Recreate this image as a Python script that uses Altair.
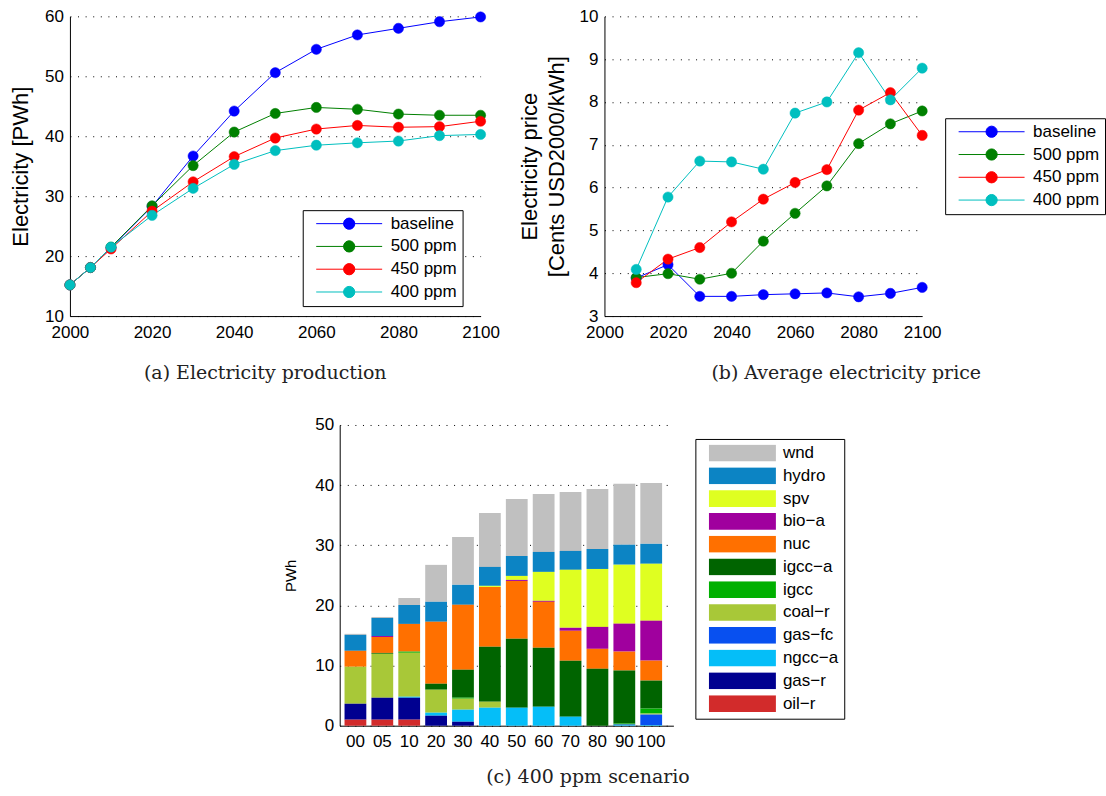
import altair as alt
import pandas as pd

# ---------------- data ----------------
scenarios = ["baseline", "500 ppm", "450 ppm", "400 ppm"]
line_colors = ["#0000ff", "#008000", "#ff0000", "#00bfbf"]

years_prod = [2000, 2005, 2010, 2020, 2030, 2040, 2050, 2060, 2070, 2080, 2090, 2100]
prod_baseline = [15.2, 18.1, 21.4, 28.3, 36.7, 44.2, 50.6, 54.5, 56.9, 58.0, 59.1, 59.9]
prod_500 = [15.2, 18.1, 21.5, 28.4, 35.1, 40.7, 43.8, 44.8, 44.5, 43.7, 43.5, 43.5]
prod_450 = [15.2, 18.1, 21.2, 27.5, 32.4, 36.6, 39.7, 41.2, 41.8, 41.5, 41.6, 42.5]
prod_400 = [15.2, 18.1, 21.5, 26.8, 31.3, 35.3, 37.6, 38.5, 38.9, 39.2, 40.1, 40.3]

years_price = [2010, 2020, 2030, 2040, 2050, 2060, 2070, 2080, 2090, 2100]
price_baseline = [3.89, 4.20, 3.46, 3.46, 3.50, 3.52, 3.54, 3.45, 3.53, 3.67]
price_500 = [3.90, 3.99, 3.86, 4.00, 4.75, 5.40, 6.04, 7.03, 7.49, 7.79]
price_450 = [3.78, 4.33, 4.60, 5.20, 5.73, 6.12, 6.42, 7.81, 8.22, 7.22]
price_400 = [4.09, 5.78, 6.62, 6.60, 6.43, 7.74, 8.00, 9.15, 8.05, 8.79]

bar_years = ["00", "05", "10", "20", "30", "40", "50", "60", "70", "80", "90", "100"]
# legend order (top to bottom); stack order is the reverse (oil−r at the bottom)
techs = ["wnd", "hydro", "spv", "bio\u2212a", "nuc", "igcc\u2212a", "igcc", "coal\u2212r",
         "gas\u2212fc", "ngcc\u2212a", "gas\u2212r", "oil\u2212r"]
tech_colors = ["#c0c0c0", "#0c84c4", "#dfff21", "#a0009e", "#ff7000", "#006400",
               "#00b000", "#a8c838", "#0850f0", "#05bef8", "#000090", "#d22b2b"]
wnd = [0.17, 0.17, 1.16, 6.14, 7.97, 8.96, 9.46, 9.63, 9.80, 9.96, 10.13, 10.13]
hydro = [2.65, 3.00, 3.15, 3.32, 3.32, 3.15, 3.32, 3.32, 3.15, 3.32, 3.32, 3.32]
spv = [0, 0, 0, 0, 0, 0.17, 0.66, 4.81, 9.63, 9.63, 9.80, 9.46]
bio_a = [0, 0.16, 0, 0, 0, 0, 0.17, 0.17, 0.50, 3.65, 4.65, 6.64]
nuc = [2.65, 2.65, 4.60, 10.30, 10.79, 9.96, 9.63, 7.64, 4.98, 3.32, 3.15, 3.32]
igcc_a = [0, 0.15, 0, 1.00, 4.65, 9.13, 11.45, 9.80, 9.30, 9.46, 8.80, 4.65]
igcc = [0, 0, 0.20, 0, 0.17, 0, 0, 0, 0, 0, 0.17, 0.83]
coal_r = [6.15, 7.30, 7.30, 3.82, 1.83, 1.00, 0, 0, 0, 0, 0, 0.17]
gas_fc = [0, 0, 0, 0, 0, 0, 0, 0, 0, 0, 0.10, 1.75]
ngcc_a = [0, 0, 0.17, 0.50, 2.00, 2.99, 2.99, 3.15, 1.50, 0, 0.10, 0.10]
gas_r = [2.65, 3.65, 3.65, 1.66, 0.66, 0, 0, 0, 0, 0, 0, 0]
oil_r = [1.00, 1.00, 1.00, 0, 0, 0, 0, 0, 0, 0, 0, 0]
tech_values = [wnd, hydro, spv, bio_a, nuc, igcc_a, igcc, coal_r, gas_fc, ngcc_a, gas_r, oil_r]

# ---------------- tables ----------------
def series_table(years, series):
    rows = []
    for s, vals in zip(scenarios, series):
        for yr, v in zip(years, vals):
            rows.append({"year": yr, "value": v, "scenario": s})
    return pd.DataFrame(rows)

df_a = series_table(years_prod, [prod_baseline, prod_500, prod_450, prod_400])
df_b = series_table(years_price, [price_baseline, price_500, price_450, price_400])

bar_rows = []
for i, (t, vals) in enumerate(zip(techs, tech_values)):
    for yl, v in zip(bar_years, vals):
        bar_rows.append({"yr": yl, "value": v, "tech": t, "stack": len(techs) - 1 - i})
df_c = pd.DataFrame(bar_rows)

# ---------------- styling ----------------
SANS = "Liberation Sans"
SERIF = "DejaVu Serif"
LINE_SYMBOL = "M-1,0L1,0M-0.17,0A0.17,0.17,0,1,1,0.17,0A0.17,0.17,0,1,1,-0.17,0Z"
RECT_SYMBOL = "M-1,-0.25L1,-0.25L1,0.25L-1,0.25Z"
INDEP = dict(x="independent", y="independent", color="independent",
             fill="independent", stroke="independent")


def caption(text, dx, offset):
    return alt.TitleParams(text, orient="bottom", anchor="middle", frame="group",
                           font=SERIF, fontSize=19, fontWeight="normal", color="#222222",
                           dx=dx, offset=offset)


def line_panel(df, ydom, yticks, ytitle, ytitle_pad, width, legx, legy, cap, cap_dx):
    legend = alt.Legend(orient="none", legendX=legx, legendY=legy, title=None,
                        symbolType=LINE_SYMBOL, symbolSize=4356, symbolStrokeWidth=1,
                        symbolOffset=8, labelOffset=8, labelFont=SANS, labelFontSize=17,
                        labelColor="black", labelLimit=300, padding=5, rowPadding=4.8,
                        clipHeight=17, strokeColor="black", fillColor="white")
    cscale = alt.Scale(domain=scenarios, range=line_colors)
    base = alt.Chart(df).encode(
        x=alt.X("year:Q", scale=alt.Scale(domain=[2000, 2100], nice=False, zero=False),
                axis=alt.Axis(values=list(range(2000, 2101, 20)), format="d", title=None,
                              grid=False, ticks=False, labelPadding=8, labelFlush=False)),
        y=alt.Y("value:Q", scale=alt.Scale(domain=ydom, nice=False, zero=False),
                axis=alt.Axis(values=yticks, title=ytitle, grid=True, gridDash=[1, 6.6],
                              gridColor="black", gridWidth=1, ticks=False, labelPadding=6.5,
                              titlePadding=ytitle_pad, titleFontSize=22, titleLineHeight=27)),
    )
    lines = base.mark_line(strokeWidth=1).encode(
        stroke=alt.Stroke("scenario:N", sort=scenarios, scale=cscale, legend=legend))
    pts = base.mark_point(filled=True, size=105, opacity=1, strokeWidth=0.5).encode(
        fill=alt.Fill("scenario:N", sort=scenarios, scale=cscale, legend=legend),
        stroke=alt.Stroke("scenario:N", sort=scenarios, scale=cscale, legend=legend))
    return alt.layer(lines, pts).properties(width=width, height=300,
                                            title=caption(cap, cap_dx, 24))


chart_a = line_panel(df_a, [10, 60], [10, 20, 30, 40, 50, 60], "Electricity [PWh]", 12,
                     411, 233, 194, "(a) Electricity production", -10)
chart_b = line_panel(df_b, [3, 10], list(range(3, 11)),
                     ["Electricity price", "[Cents USD2000/kWh]"], 11,
                     318, 341, 102, "(b) Average electricity price", 83)

bar_legend = alt.Legend(orient="none", legendX=356, legendY=14, title=None,
                        symbolType=RECT_SYMBOL, symbolSize=4489, symbolStrokeWidth=0,
                        symbolOffset=8, labelOffset=7, labelFont=SANS, labelFontSize=17,
                        labelColor="black", padding=5.6, rowPadding=4.8, clipHeight=17,
                        strokeColor="black", fillColor="white", symbolOpacity=1)

chart_c = alt.Chart(df_c).mark_bar(opacity=1).encode(
    x=alt.X("yr:N", sort=bar_years,
            scale=alt.Scale(paddingInner=0.19, paddingOuter=0.3, align=0.3),
            axis=alt.Axis(title=None, labelAngle=0, ticks=False, labelPadding=8)),
    y=alt.Y("sum(value):Q", scale=alt.Scale(domain=[0, 50], nice=False),
            axis=alt.Axis(values=[0, 10, 20, 30, 40, 50], title="PWh", grid=True,
                          gridDash=[1, 6.6], gridColor="black", ticks=False, labelPadding=6,
                          titlePadding=16, titleFontSize=15)),
    color=alt.Color("tech:N", sort=techs, scale=alt.Scale(domain=techs, range=tech_colors),
                    legend=bar_legend),
    order=alt.Order("stack:Q", sort="ascending"),
).properties(width=334, height=301, title=caption("(c) 400 ppm scenario", 81.5, 18))

spacer = alt.Chart(pd.DataFrame({"v": [0]})).mark_point(opacity=0).encode(
    x=alt.X("v:Q", axis=None), y=alt.Y("v:Q", axis=None)
).properties(width=270, height=10)

top_row = alt.hconcat(chart_a, chart_b, spacing=124, bounds="flush").resolve_scale(**INDEP)
bottom_row = alt.hconcat(spacer, chart_c, spacing=0, bounds="flush").resolve_scale(**INDEP)

chart = alt.vconcat(
    top_row, bottom_row, spacing=33,
).resolve_scale(**INDEP).properties(
    padding={"left": 9, "top": 7, "right": 0, "bottom": 0}, background="white"
).configure_view(strokeWidth=0, stroke="transparent").configure_axis(
    labelFont=SANS, labelFontSize=17, labelColor="black", domainColor="black",
    domainWidth=1, titleFont=SANS, titleColor="black", titleFontWeight="normal"
)

chart.save("out.html", embed_options={"renderer": "svg", "actions": False})
